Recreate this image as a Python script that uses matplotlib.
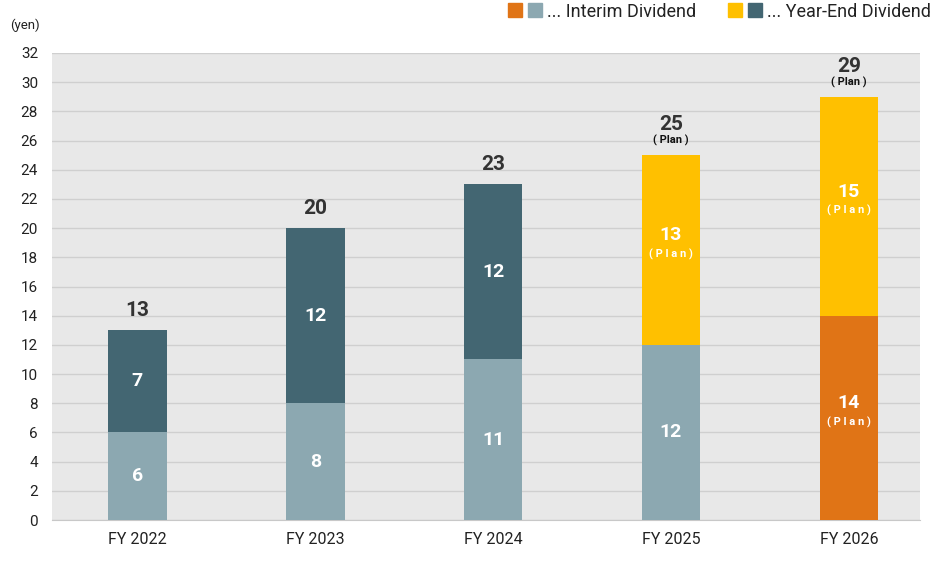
import matplotlib.pyplot as plt
from matplotlib.patches import Rectangle

# data
years = ["FY 2022", "FY 2023", "FY 2024", "FY 2025", "FY 2026"]
interim = [6, 8, 11, 12, 14]
year_end = [7, 12, 12, 13, 15]
is_plan = [False, False, False, True, True]
interim_plan = [False, False, False, False, True]
year_end_plan = [False, False, False, True, True]

c_int = "#8ca8b1"
c_end = "#436672"
c_int_plan = "#e07416"
c_end_plan = "#ffc000"

plt.rcParams['font.family'] = ['Roboto', 'DejaVu Sans']

fig = plt.figure(figsize=(9.36, 5.7), dpi=100)
ax = fig.add_axes([52/936, 50/570, 868/936, 467/570])
ax.set_facecolor("#e8e8e8")

x = list(range(len(years)))
w = 0.33
col_i = [c_int_plan if p else c_int for p in interim_plan]
col_e = [c_end_plan if p else c_end for p in year_end_plan]
ax.bar(x, interim, width=w, color=col_i, zorder=3)
ax.bar(x, year_end, width=w, bottom=interim, color=col_e, zorder=3)


def seg_label(i, mid, val, plan):
    if plan:
        ax.text(i, mid + 1.0, str(val), ha="center", va="center", color="white",
                fontsize=14, fontweight="bold", zorder=4)
        ax.text(i, mid - 0.3, "( P l a n )", ha="center", va="center", color="white",
                fontsize=8, fontweight="bold", zorder=4)
    else:
        ax.text(i, mid, str(val), ha="center", va="center", color="white",
                fontsize=14, fontweight="bold", zorder=4)


for i in x:
    seg_label(i, interim[i] / 2, interim[i], interim_plan[i])
    seg_label(i, interim[i] + year_end[i] / 2, year_end[i], year_end_plan[i])
    total = interim[i] + year_end[i]
    if is_plan[i]:
        ax.text(i, total + 2.1, str(total), ha="center", va="center", color="#333333",
                fontsize=15, fontweight="bold", zorder=4)
        ax.text(i, total + 1.0, "( Plan )", ha="center", va="center", color="#111111",
                fontsize=8, fontweight="bold", zorder=4)
    else:
        ax.text(i, total + 1.35, str(total), ha="center", va="center", color="#333333",
                fontsize=15, fontweight="bold", zorder=4)

ax.set_xlim(-0.48, 4.4)
ax.set_ylim(0, 32)
ax.set_yticks(range(0, 33, 2))
ax.set_xticks(x)
ax.set_xticklabels(years)
ax.grid(axis="y", color="#cfcfcf", linewidth=1, zorder=1)
for s in ["top", "right", "left"]:
    ax.spines[s].set_visible(False)
ax.spines["bottom"].set_color("#c8c8c8")
ax.tick_params(axis="both", length=0, labelsize=11, colors="#222222")
ax.tick_params(axis="x", labelsize=11.5, pad=9)
ax.tick_params(axis="y", pad=10)

fig.text(10/936, 1 - 25/570, "(yen)", fontsize=9.5, color="#222222", va="center")

# legend
def sq(px, color):
    fig.patches.append(Rectangle((px/936, 1 - 17/570), 14/936, 14/570,
                                 transform=fig.transFigure, color=color))
sq(508, c_int_plan)
sq(528, c_int)
fig.text(547/936, 1 - 17/570, "... Interim Dividend", fontsize=13, color="#222222", va="baseline")
sq(728, c_end_plan)
sq(748, c_end)
fig.text(767/936, 1 - 17/570, "... Year-End Dividend", fontsize=13, color="#222222", va="baseline")

fig.savefig("out.png", dpi=100)
